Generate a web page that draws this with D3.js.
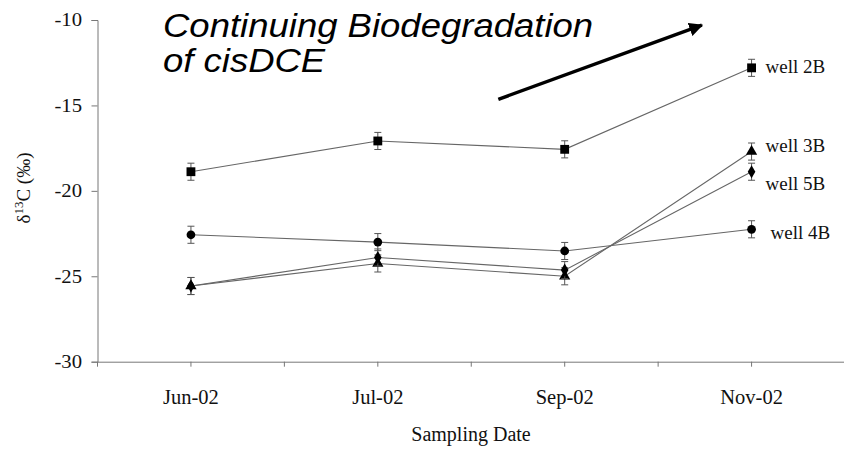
<!DOCTYPE html>
<html>
<head>
<meta charset="utf-8">
<script src="https://cdn.jsdelivr.net/npm/d3@7"></script>
<style>
  html, body { margin: 0; padding: 0; background: #fff; }
  svg { display: block; }
  .serif { font-family: "Liberation Serif", "Times New Roman", serif; fill: #111; }
</style>
</head>
<body>
<svg id="chart" width="844" height="449"></svg>
<script>
// ---- data ----
const categories = ["Jun-02", "Jul-02", "Sep-02", "Nov-02"];
const yTicks = [-30, -25, -20, -15, -10];
const well2B = [-18.88, -17.08, -17.57, -12.8];
const well3B = [-25.57, -24.25, -25.0, -17.7];
const well5B = [-25.57, -23.9, -24.64, -18.88];
const well4B = [-22.57, -23.0, -23.52, -22.25];
const errorBar = [0.5, 0.5, 0.5, 0.5];
const seriesNames = ["well 2B", "well 3B", "well 5B", "well 4B"];
const annotationLines = ["Continuing Biodegradation", "of cisDCE"];
// arrow in data coordinates (category index, value)
const arrowFrom = [1.645, -14.64];
const arrowTo = [2.734, -10.3];

const series = [
  { name: seriesNames[0], values: well2B, symbol: d3.symbolSquare, size: 78, lab: [14, 5] },
  { name: seriesNames[1], values: well3B, symbol: d3.symbolTriangle, size: 55, lab: [14, 0] },
  { name: seriesNames[2], values: well5B, symbol: d3.symbolDiamond, size: 50, lab: [14, 18] },
  { name: seriesNames[3], values: well4B, symbol: d3.symbolCircle, size: 60, lab: [19, 10] }
];

const svg = d3.select("#chart");
const mLeft = 97.5, mRight = 845, mTop = 20, mBottom = 361.7;

const x = d3.scaleBand().domain(categories).range([mLeft, mRight]);
const xi = d3.scaleLinear().domain([0, 3]).range([x(categories[0]) + x.bandwidth() / 2, x(categories[3]) + x.bandwidth() / 2]);
const y = d3.scaleLinear().domain([-30, -10]).range([mBottom, mTop]);

// y axis
const yAxis = svg.append("g").attr("transform", `translate(${mLeft},0)`)
  .call(d3.axisLeft(y).tickValues(yTicks).tickSize(6).tickFormat(d => String(d)));
yAxis.select(".domain").attr("stroke", "#777");
yAxis.selectAll(".tick line").attr("stroke", "#777");
yAxis.selectAll(".tick text").attr("class", "serif").attr("font-size", 18.5)
  .attr("transform", "scale(1.12,1)").attr("x", -15.5 / 1.12);

// x axis
const xAxis = svg.append("g").attr("transform", `translate(0,${mBottom})`)
  .call(d3.axisBottom(x).tickSize(0).tickPadding(28));
xAxis.select(".domain").attr("stroke", "#777");
xAxis.selectAll(".tick text").attr("class", "serif").attr("font-size", 20.5);
// tick marks at band edges and centers
const xTickPos = [];
categories.forEach(c => { xTickPos.push(x(c)); xTickPos.push(x(c) + x.bandwidth() / 2); });
xAxis.selectAll(".xt").data(xTickPos).enter().append("line")
  .attr("x1", d => d).attr("x2", d => d).attr("y1", 0).attr("y2", 5).attr("stroke", "#777");

// axis titles
svg.append("text").attr("class", "serif").attr("font-size", 20)
  .attr("x", 471).attr("y", 441).attr("text-anchor", "middle")
  .text("Sampling Date");
const yl = svg.append("text").attr("class", "serif").attr("font-size", 19)
  .attr("transform", `translate(30,188) rotate(-90)`).attr("text-anchor", "middle");
yl.append("tspan").text("δ");
yl.append("tspan").attr("dy", -7).attr("font-size", 13).text("13");
yl.append("tspan").attr("dy", 7).text("C (‰)");

// lines, error bars, markers
const line = d3.line().x((d, i) => xi(i)).y(d => y(d));
series.forEach(s => {
  const g = svg.append("g");
  g.append("path").datum(s.values).attr("d", line)
    .attr("fill", "none").attr("stroke", "#666").attr("stroke-width", 1.1);
  s.values.forEach((v, i) => {
    const cx = xi(i), e = errorBar[i];
    g.append("line").attr("x1", cx).attr("x2", cx).attr("y1", y(v - e)).attr("y2", y(v + e))
      .attr("stroke", "#555").attr("stroke-width", 1);
    [v - e, v + e].forEach(w => g.append("line")
      .attr("x1", cx - 3.5).attr("x2", cx + 3.5).attr("y1", y(w)).attr("y2", y(w))
      .attr("stroke", "#555").attr("stroke-width", 1));
  });
  g.selectAll(".m").data(s.values).enter().append("path")
    .attr("d", d3.symbol().type(s.symbol).size(s.size))
    .attr("transform", (d, i) => `translate(${xi(i)},${y(d)})`)
    .attr("fill", "#000");
  const last = s.values.length - 1;
  g.append("text").attr("class", "serif").attr("font-size", 19)
    .attr("x", xi(last) + s.lab[0]).attr("y", y(s.values[last]) + s.lab[1])
    .text(s.name);
});

// annotation
svg.append("defs").append("marker").attr("id", "ah").attr("viewBox", "0 0 10 10")
  .attr("refX", 9).attr("refY", 5).attr("markerWidth", 4).attr("markerHeight", 4)
  .attr("markerUnits", "strokeWidth").attr("orient", "auto")
  .append("path").attr("d", "M0,0 L10,5 L0,10 z").attr("fill", "#000");
svg.append("line")
  .attr("x1", xi(arrowFrom[0])).attr("y1", y(arrowFrom[1]))
  .attr("x2", xi(arrowTo[0])).attr("y2", y(arrowTo[1]))
  .attr("stroke", "#000").attr("stroke-width", 3.5).attr("marker-end", "url(#ah)");
const ann = svg.append("g").attr("transform", "translate(163,0) scale(1.09,1)");
annotationLines.forEach((t, i) => {
  ann.append("text").attr("x", 0).attr("y", 37 + i * 35)
    .attr("font-family", "'Liberation Sans', Arial, sans-serif").attr("font-style", "italic")
    .attr("font-size", 33.5).attr("fill", "#000").text(t);
});
</script>
</body>
</html>
